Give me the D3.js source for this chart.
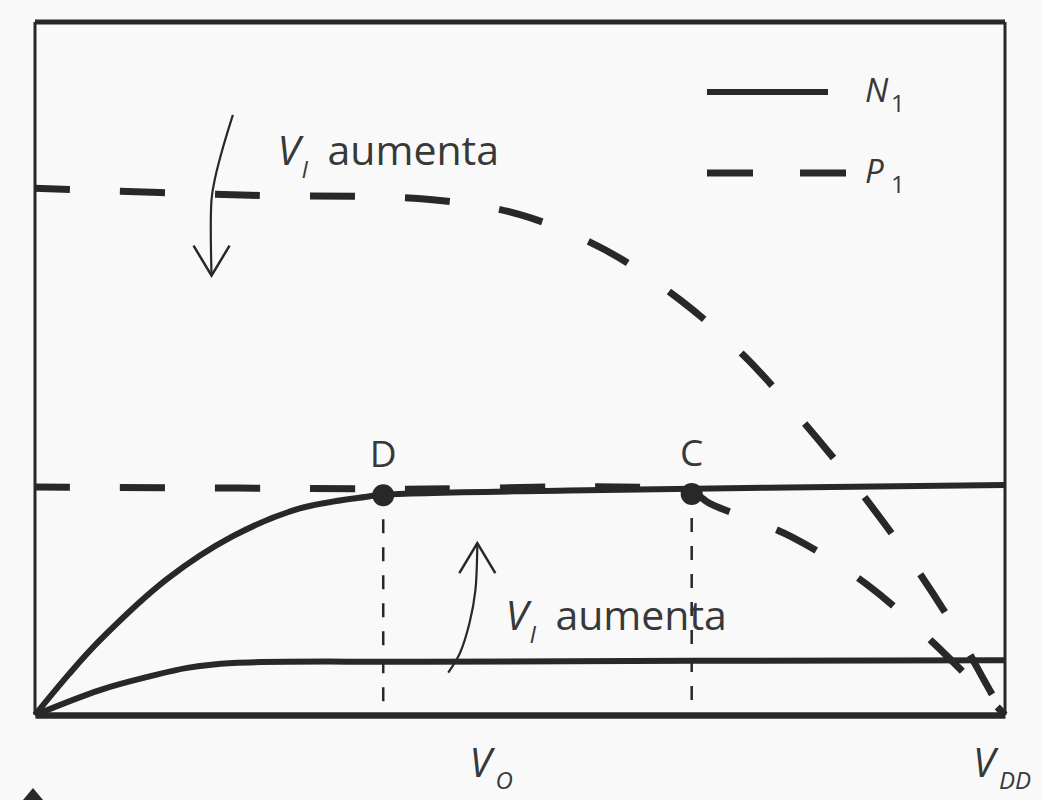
<!DOCTYPE html>
<html><head><meta charset="utf-8">
<script src="https://cdn.jsdelivr.net/npm/d3@7"></script>
<style>
html,body{margin:0;padding:0;background:#f9f9f9;}
svg{display:block;}
text{font-family:"Open Sans","Noto Sans",sans-serif;fill:#383838;}
</style></head>
<body>
<svg id="chart" width="1042" height="800"></svg>
<script>
// ---- data (V_O normalised to V_DD, current normalised to frame height) ----
const xDomain = [0, 1];
const yDomain = [0, 1];

// N1 characteristics (solid)
const n1HighX = [0, 0.035, 0.067, 0.136, 0.204, 0.273, 0.342, 0.359, 0.55, 1.0];
const n1HighY = [0, 0.059, 0.108, 0.196, 0.258, 0.298, 0.315, 0.318, 0.324, 0.332];
const n1LowX  = [0, 0.067, 0.119, 0.157, 0.204, 0.40, 1.0];
const n1LowY  = [0, 0.036, 0.056, 0.068, 0.075, 0.077, 0.079];

// P1 characteristics (dashed)
const p1UpperX = [0, 0.222, 0.407, 0.500, 0.588, 0.665, 0.732, 0.792, 0.847, 0.900, 0.948, 0.987, 1.0];
const p1UpperY = [0.760, 0.750, 0.744, 0.722, 0.671, 0.599, 0.517, 0.423, 0.329, 0.229, 0.126, 0.029, 0];
const p1LowerX = [0, 0.358, 0.677, 0.696, 0.780, 0.858, 0.927, 1.0];
const p1LowerY = [0.329, 0.326, 0.321, 0.305, 0.257, 0.188, 0.103, 0];

// operating points
const pointNames = ["D", "C"];
const pointX = [0.359, 0.677];
const pointY = [0.317, 0.319];

// "V_I aumenta" arrows (data coordinates)
const arrowDownX = [0.204, 0.194, 0.186, 0.182, 0.182];
const arrowDownY = [0.866, 0.820, 0.777, 0.744, 0.634];
const arrowUpX = [0.426, 0.438, 0.448, 0.454, 0.456];
const arrowUpY = [0.061, 0.089, 0.133, 0.180, 0.248];

const legendNames = ["N", "P"];
const legendSubs = ["1", "1"];
const legendDashed = [false, true];

// ---- drawing ----
const W = 1042, H = 800;
const margin = {left: 35, right: 37, top: 22, bottom: 85};
const svg = d3.select("#chart");
const ink = "#282828";

const x = d3.scaleLinear().domain(xDomain).range([margin.left, W - margin.right]);
const y = d3.scaleLinear().domain(yDomain).range([H - margin.bottom, margin.top]);

const zip = (xs, ys) => xs.map((v, i) => [v, ys[i]]);
const lineC = d3.line().x(d => x(d[0])).y(d => y(d[1])).curve(d3.curveCatmullRom.alpha(0.5));

// frame
svg.append("line").attr("x1", x(0)).attr("x2", x(1)).attr("y1", y(1)).attr("y2", y(1))
  .attr("stroke", ink).attr("stroke-width", 5);
svg.append("line").attr("x1", x(0)).attr("x2", x(0)).attr("y1", y(1)).attr("y2", y(0))
  .attr("stroke", ink).attr("stroke-width", 3);
svg.append("line").attr("x1", x(1)).attr("x2", x(1)).attr("y1", y(1)).attr("y2", y(0))
  .attr("stroke", ink).attr("stroke-width", 3);

// x axis (also N1 curve for V_I = 0)
const xAxis = svg.append("g").attr("transform", `translate(0,${y(0)})`)
  .call(d3.axisBottom(x).tickValues([]).tickSizeOuter(0));
xAxis.select(".domain").attr("stroke", ink).attr("stroke-width", 6.5);

// vertical guides through D and C
pointX.forEach((px, i) => {
  svg.append("line").attr("x1", x(px)).attr("x2", x(px))
    .attr("y1", y(pointY[i]) + 24).attr("y2", y(0))
    .attr("stroke", ink).attr("stroke-width", 2.5).attr("stroke-dasharray", "14 14");
});

// P1 dashed curves
[zip(p1UpperX, p1UpperY), zip(p1LowerX, p1LowerY)].forEach(d => {
  svg.append("path").attr("d", lineC(d)).attr("fill", "none")
    .attr("stroke", ink).attr("stroke-width", 7)
    .attr("stroke-dasharray", "45 50").attr("stroke-dashoffset", 10);
});

// N1 solid curves
[zip(n1HighX, n1HighY), zip(n1LowX, n1LowY)].forEach(d => {
  svg.append("path").attr("d", lineC(d)).attr("fill", "none")
    .attr("stroke", ink).attr("stroke-width", 6).attr("stroke-linejoin", "round");
});

// operating points
pointX.forEach((px, i) => {
  svg.append("circle").attr("cx", x(px)).attr("cy", y(pointY[i])).attr("r", 11).attr("fill", ink);
  svg.append("text").attr("x", x(px)).attr("y", y(pointY[i]) - 28)
    .attr("text-anchor", "middle").attr("font-size", 37).text(pointNames[i]);
});

// arrows
function arrow(xs, ys, down) {
  const pts = zip(xs, ys);
  svg.append("path").attr("d", lineC(pts)).attr("fill", "none")
    .attr("stroke", ink).attr("stroke-width", 2.2);
  const tip = pts[pts.length - 1];
  const tx = x(tip[0]), ty = y(tip[1]);
  const s = down ? -1 : 1;
  svg.append("path")
    .attr("d", `M${tx - 18},${ty + s * 30} L${tx},${ty} L${tx + 18},${ty + s * 30}`)
    .attr("fill", "none").attr("stroke", ink).attr("stroke-width", 2.5);
}
arrow(arrowDownX, arrowDownY, true);
arrow(arrowUpX, arrowUpY, false);

// "V_I aumenta" labels
function viLabel(x0, base) {
  svg.append("text").attr("x", x0).attr("y", base).attr("font-size", 41)
    .attr("font-style", "italic").text("V");
  svg.append("text").attr("x", x0 + 24).attr("y", base + 13).attr("font-size", 24)
    .attr("font-style", "italic").text("I");
  svg.append("text").attr("x", x0 + 50).attr("y", base).attr("font-size", 41).text("aumenta");
}
viLabel(x(0.250), y(0.794));
viLabel(x(0.485), y(0.123));

// axis labels
function subLabel(x0, base, main, sub) {
  svg.append("text").attr("x", x0).attr("y", base).attr("font-size", 40)
    .attr("font-style", "italic").text(main);
  svg.append("text").attr("x", x0 + 26).attr("y", base + 12).attr("font-size", 24)
    .attr("font-style", "italic").text(sub);
}
subLabel(x(0.448), y(0) + 62, "V", "O");
subLabel(x(1.0) - 32, y(0) + 62, "V", "DD");

// legend
legendNames.forEach((nm, i) => {
  const ly = 92 + i * 81;
  svg.append("line").attr("x1", 707).attr("x2", legendDashed[i] ? 846 : 828)
    .attr("y1", ly).attr("y2", ly).attr("stroke", ink)
    .attr("stroke-width", legendDashed[i] ? 7 : 6)
    .attr("stroke-dasharray", legendDashed[i] ? "46 47" : null);
  svg.append("text").attr("x", 865).attr("y", ly + 10).attr("font-size", 33)
    .attr("font-style", "italic").text(nm);
  svg.append("text").attr("x", 891).attr("y", ly + 20).attr("font-size", 24).text(legendSubs[i]);
});

// cut-off arrowhead of the next figure at the bottom-left
svg.append("path").attr("d", `M${x(0) - 12},${H} L${x(0) - 2},${H - 12} L${x(0) + 8},${H} Z`).attr("fill", ink);
</script>
</body></html>
